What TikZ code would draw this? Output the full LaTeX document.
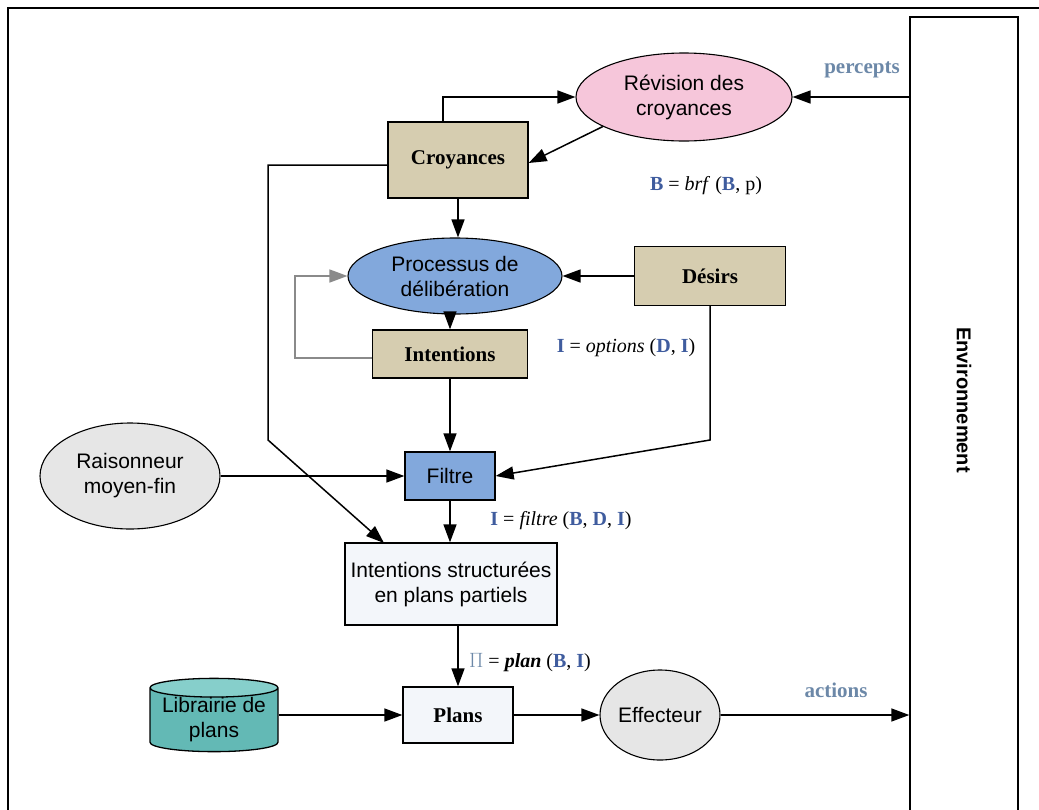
\documentclass[tikz,border=0pt]{standalone}
\usepackage{fontspec}
\setmainfont{Liberation Serif}
\setsansfont{Liberation Sans}
\usetikzlibrary{shapes.geometric,arrows.meta}
\definecolor{tanfill}{HTML}{D6CDB0}
\definecolor{pinkfill}{HTML}{F6C6DA}
\definecolor{bluefill}{HTML}{82A8DC}
\definecolor{grayfill}{HTML}{E6E6E6}
\definecolor{palefill}{HTML}{F3F6FA}
\definecolor{tealfill}{HTML}{63B9B5}
\definecolor{tealtop}{HTML}{86CFCB}
\definecolor{fblue}{HTML}{3F5C9E}
\definecolor{lblue}{HTML}{6C88A8}
\definecolor{loopgray}{HTML}{8A8A8A}
\tikzset{
  arr/.style={-{Triangle[length=18pt,width=13pt]}, line width=1.5pt},
  sanslbl/.style={font=\sffamily\fontsize{21}{25}\selectfont, align=center},
  tanbox/.style={draw, line width=1.3pt, fill=tanfill, font=\bfseries\fontsize{21}{25}\selectfont},
  ell/.style={ellipse, draw, line width=1.1pt, sanslbl, inner sep=0pt},
  formula/.style={font=\fontsize{20}{24}\selectfont},
  flowlbl/.style={text=lblue, font=\bfseries\fontsize{21}{25}\selectfont},
}
\newcommand{\bb}[1]{\textcolor{fblue}{\textbf{#1}}}
\begin{document}
\begin{tikzpicture}[x=1pt,y=-1pt]
\useasboundingbox (0,0) rectangle (1039,809);
\clip (0,0) rectangle (1039,809);
% outer frame
\draw[line width=2.2pt] (8,860) -- (8,8) -- (1060,8);
% environment
\node[draw, line width=1.4pt, fill=white, minimum width=108pt, minimum height=830pt, inner sep=0pt] (env) at (964,432) {};
\node[rotate=-90, font=\sffamily\bfseries\fontsize{20}{24}\selectfont] (envt) at (964,400) {Environnement};
% nodes
\node[ell, fill=pinkfill, minimum width=216pt, minimum height=88pt] (rev) at (684,97) {Révision des\\croyances};
\node[tanbox, minimum width=140pt, minimum height=76pt] (cro) at (458,160) {Croyances};
\node[ell, fill=bluefill, minimum width=214pt, minimum height=76pt] (proc) at (455,276) {Processus de\\délibération};
\node[tanbox, minimum width=151pt, minimum height=59pt] (des) at (710,276) {Désirs};
\node[tanbox, minimum width=155pt, minimum height=48pt] (int) at (450,354) {Intentions};
\node[draw, line width=1.3pt, fill=bluefill, minimum width=90pt, minimum height=48pt, sanslbl] (fil) at (450,476) {Filtre};
\node[ell, fill=grayfill, minimum width=180pt, minimum height=106pt] (rai) at (130,476) {Raisonneur\\moyen-fin};
\node[draw, line width=1.3pt, fill=palefill, minimum width=212pt, minimum height=82pt, sanslbl] (is) at (451,584) {Intentions structurées\\en plans partiels};
\node[draw, line width=1.3pt, fill=palefill, minimum width=110pt, minimum height=56pt, font=\bfseries\fontsize{21}{25}\selectfont] (pla) at (458,715) {Plans};
\node[cylinder, shape border rotate=90, draw, line width=1.3pt, aspect=0.18,
      cylinder uses custom fill, cylinder body fill=tealfill, cylinder end fill=tealtop,
      minimum width=128pt, minimum height=68pt, sanslbl, inner sep=0pt] (lib) at (214,720) {Librairie de\\plans};
\node[ell, fill=grayfill, minimum width=120pt, minimum height=90pt] (eff) at (660,715) {Effecteur};
% formulas and labels
\node[formula] (f1) at (706,186) {\bb{B} = \textit{brf} (\bb{B}, p)};
\node[formula] (f2) at (626,348) {\bb{I} = \textit{options} (\bb{D}, \bb{I})};
\node[formula] (f3) at (561,521) {\bb{I} = \textit{filtre} (\bb{B}, \bb{D}, \bb{I})};
\node[formula] (f4) at (530,663) {\textcolor{lblue}{$\Pi$} = \textbf{\textit{plan}} (\bb{B}, \bb{I})};
\node[flowlbl] (perc) at (862,70) {percepts};
\node[flowlbl] (act) at (836,690) {actions};
% coordinates
\coordinate (loopL) at (295,0);
\coordinate (croB) at (268,440);
\coordinate (isTL) at (384,543);
\coordinate (desB) at (710,440);
% connectors
\draw[arr] ([xshift=-15pt]cro.north) |- (rev.west);
\draw[arr] (rev.200) -- ([yshift=-3pt]cro.east);
\draw[arr] (env.west |- rev.east) -- (rev.east);
\draw[arr] (cro.south) -- (cro.south |- proc.north);
\draw[arr] (des.west) -- (des.west -| proc.east);
\draw[arr] (int.north |- proc.south) -- (int.north);
\draw[arr, draw=loopgray] ([yshift=-4pt]int.west) -| (loopL |- proc.west) -- (proc.west);
\draw[arr] (int.south) -- (fil.north);
\draw[arr] (des.south) -- (desB) -- (fil.east);
\draw[arr] (rai.east) -- (fil.west);
\draw[arr] ([yshift=-5pt]cro.west) -| (croB) -- (isTL);
\draw[arr] (fil.south) -- (fil.south |- is.north);
\draw[arr] (pla.north |- is.south) -- (pla.north);
\draw[arr] (lib.east |- pla.west) -- (pla.west);
\draw[arr] (pla.east) -- (eff.west);
\draw[arr] (eff.east) -- (env.west |- eff.east);
\end{tikzpicture}
\end{document}
